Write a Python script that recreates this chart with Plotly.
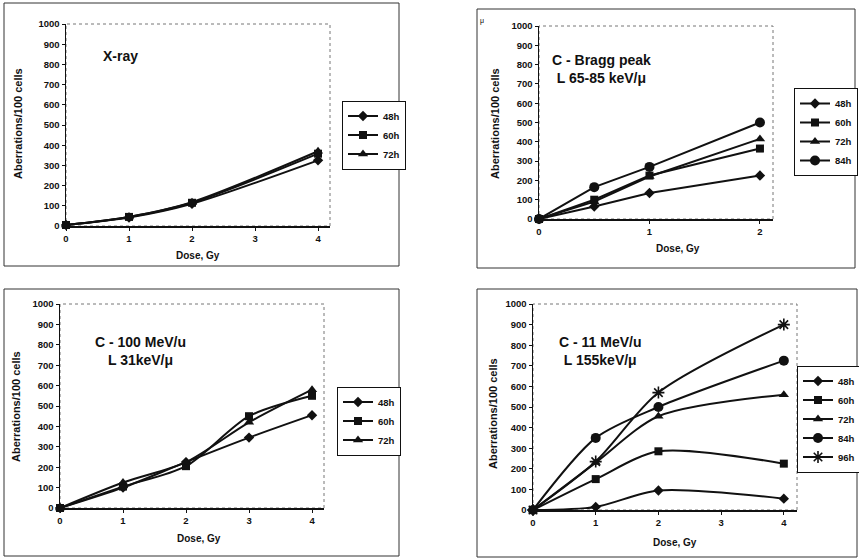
import plotly.graph_objects as go

W, H = 859, 558

# ---------------- data ----------------
series_names_3 = ["48h", "60h", "72h"]
series_names_4 = ["48h", "60h", "72h", "84h"]
series_names_5 = ["48h", "60h", "72h", "84h", "96h"]

dose_xray = [0, 1, 2, 4]
xray_48h = [5, 42, 110, 325]
xray_60h = [5, 45, 115, 358]
xray_72h = [5, 45, 118, 370]

dose_bragg = [0, 0.5, 1, 2]
bragg_48h = [0, 65, 135, 225]
bragg_60h = [0, 100, 225, 365]
bragg_72h = [0, 90, 220, 415]
bragg_84h = [0, 165, 270, 500]

dose_c100 = [0, 1, 2, 3, 4]
c100_48h = [0, 100, 225, 345, 455]
c100_60h = [0, 105, 205, 450, 550]
c100_72h = [0, 125, 225, 420, 580]

dose_c11 = [0, 1, 2, 4]
c11_48h = [0, 15, 95, 55]
c11_60h = [0, 150, 285, 225]
c11_72h = [0, 230, 455, 560]
c11_84h = [0, 350, 500, 725]
c11_96h = [0, 235, 570, 900]

panel_titles = ["X-ray", "C - Bragg peak<br>L 65-85 keV/\u03bc",
                "C - 100 MeV/u<br>L 31keV/\u03bc", "C - 11 MeV/u<br>L 155keV/\u03bc"]
x_title = "Dose, Gy"
y_title = "Aberrations/100 cells"
y_ticks = list(range(0, 1001, 100))

# ---------------- styles ----------------
FONT = "Arial, Liberation Sans, sans-serif"
INK = "#111111"
symbols = {"48h": "diamond", "60h": "square", "72h": "triangle-up",
           "84h": "circle", "96h": "asterisk-open"}
msize = {"48h": 8, "60h": 8, "72h": 9, "84h": 10, "96h": 10}


def fx(px):
    return px / W


def fy(py):
    return 1 - py / H


# plot areas in pixels: (left, top, right, bottom), x max
panels = [
    dict(box=(66, 24, 330, 226), xmax=4.19, xt=[0, 1, 2, 3, 4], legend="legend",
         dose=dose_xray, ys=[xray_48h, xray_60h, xray_72h], names=series_names_3,
         shape="spline", frame=(4, 3, 399, 266),
         title_xy=(120, 56), xtitle_xy=(198, 255), ytitle_xy=(18, 124),
         leg_xy=(342, 135)),
    dict(box=(539, 26, 773, 219), xmax=2.118, xt=[0, 1, 2], legend="legend2",
         dose=dose_bragg, ys=[bragg_48h, bragg_60h, bragg_72h, bragg_84h],
         names=series_names_4, shape="linear", frame=(477, 9, 855, 268),
         title_xy=(601, 69), xtitle_xy=(678, 248), ytitle_xy=(495, 124),
         leg_xy=(794, 132)),
    dict(box=(60, 304, 324, 508), xmax=4.19, xt=[0, 1, 2, 3, 4], legend="legend3",
         dose=dose_c100, ys=[c100_48h, c100_60h, c100_72h], names=series_names_3,
         shape="spline", frame=(4, 289, 399, 556),
         title_xy=(140, 351), xtitle_xy=(199, 538), ytitle_xy=(16, 407),
         leg_xy=(337, 421)),
    dict(box=(533, 304, 797, 510), xmax=4.21, xt=[0, 1, 2, 3, 4], legend="legend4",
         dose=dose_c11, ys=[c11_48h, c11_60h, c11_72h, c11_84h, c11_96h],
         names=series_names_5, shape="spline", frame=(477, 289, 857, 557),
         title_xy=(600, 351), xtitle_xy=(675, 542), ytitle_xy=(493, 414),
         leg_xy=(797, 419)),
]

fig = go.Figure()
shapes = []
annotations = []
layout_extra = {}

for i, p in enumerate(panels):
    n = "" if i == 0 else str(i + 1)
    xa, ya = "x" + n, "y" + n
    l, t, r, b = p["box"]
    for name, yv in zip(p["names"], p["ys"]):
        fig.add_trace(go.Scatter(
            x=p["dose"], y=yv, name=name, xaxis=xa, yaxis=ya,
            mode="lines+markers", legend=p["legend"], cliponaxis=False,
            line=dict(color=INK, width=2, shape=p["shape"], smoothing=0.8),
            marker=dict(symbol=symbols[name], size=msize[name], color=INK,
                        line=dict(color=INK, width=1.6 if name == "96h" else 0)),
        ))
    axcommon = dict(showgrid=False, zeroline=False, showline=True,
                    linecolor=INK, linewidth=1.5, ticks="outside", ticklen=3,
                    tickcolor=INK, tickwidth=1,
                    tickfont=dict(family=FONT, size=9.5, color=INK, weight="bold"))
    layout_extra["xaxis" + n] = dict(
        domain=[fx(l), fx(r)], range=[0, p["xmax"]], tickvals=p["xt"],
        anchor=ya, **axcommon)
    layout_extra["yaxis" + n] = dict(
        domain=[fy(b), fy(t)], range=[0, 1000], tickvals=y_ticks,
        anchor=xa, **axcommon)
    # dotted plot-area border
    shapes.append(dict(type="rect", xref="paper", yref="paper", layer="below",
                       x0=fx(l), x1=fx(r), y0=fy(b), y1=fy(t),
                       line=dict(color="#777777", width=1, dash="dot")))
    # outer chart frame
    fl, ft, fr, fb = p["frame"]
    shapes.append(dict(type="rect", xref="paper", yref="paper", layer="below",
                       x0=fx(fl), x1=fx(fr), y0=fy(fb), y1=fy(ft),
                       line=dict(color="#333333", width=1)))
    # panel title
    tx, ty = p["title_xy"]
    annotations.append(dict(text="<b>" + panel_titles[i] + "</b>", x=fx(tx), y=fy(ty),
                            xref="paper", yref="paper", showarrow=False,
                            xanchor="center", yanchor="middle", align="center",
                            font=dict(family=FONT, size=14, color=INK)))
    # axis titles
    ax_, ay_ = p["xtitle_xy"]
    annotations.append(dict(text="<b>" + x_title + "</b>", x=fx(ax_), y=fy(ay_),
                            xref="paper", yref="paper", showarrow=False,
                            xanchor="center", yanchor="middle",
                            font=dict(family=FONT, size=10, color=INK)))
    bx, by = p["ytitle_xy"]
    annotations.append(dict(text="<b>" + y_title + "</b>", x=fx(bx), y=fy(by),
                            xref="paper", yref="paper", showarrow=False,
                            textangle=-90, xanchor="center", yanchor="middle",
                            font=dict(family=FONT, size=11, color=INK)))
    # legend
    lx, ly = p["leg_xy"]
    layout_extra[p["legend"]] = dict(
        x=fx(lx), y=fy(ly), xanchor="left", yanchor="middle",
        bordercolor=INK, borderwidth=1, bgcolor="white", itemwidth=30,
        font=dict(family=FONT, size=9.5, color=INK, weight="bold"),
        tracegroupgap=0)

# stray glyph at top-left of panel 2
annotations.append(dict(text="\u03bc", x=fx(482), y=fy(15), xref="paper", yref="paper",
                        showarrow=False, font=dict(family=FONT, size=7, color="black")))

fig.update_layout(
    width=W, height=H,
    margin=dict(l=0, r=0, t=0, b=0, pad=0, autoexpand=False),
    paper_bgcolor="white", plot_bgcolor="white", hovermode=False,
    showlegend=True, shapes=shapes, annotations=annotations,
    **layout_extra,
)

fig.write_html("out.html", config={"displayModeBar": False, "staticPlot": True},
               post_script="document.body.style.margin='0';"
                           "document.body.style.overflow='hidden';")
